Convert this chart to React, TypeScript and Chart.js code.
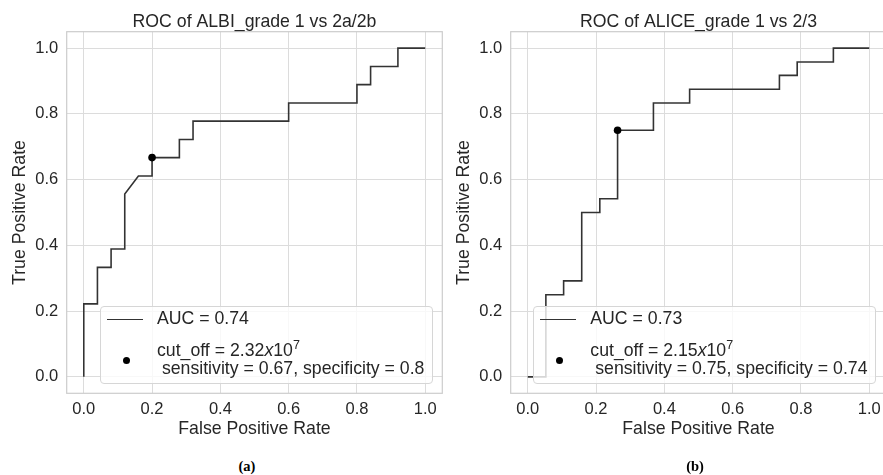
import React, { useEffect, useRef } from "react";
import { Chart, registerables } from "chart.js";

Chart.register(...registerables);

// ---- data ----
const axisTicks = [0, 0.2, 0.4, 0.6, 0.8, 1.0];

const titleA = "ROC of ALBI_grade 1 vs 2a/2b";
const fprA = [0, 0, 0.04, 0.04, 0.08, 0.08, 0.12, 0.12, 0.16, 0.2, 0.2, 0.28, 0.28, 0.32, 0.32, 0.6, 0.6, 0.8, 0.8, 0.84, 0.84, 0.92, 0.92, 1.0];
const tprA = [0, 0.222, 0.222, 0.333, 0.333, 0.389, 0.389, 0.556, 0.611, 0.611, 0.667, 0.667, 0.722, 0.722, 0.778, 0.778, 0.833, 0.833, 0.889, 0.889, 0.944, 0.944, 1.0, 1.0];
const cutA = [0.2, 0.667];
const aucA = "0.74";
const cutValA = "2.32";
const sensA = "0.67";
const specA = "0.8";

const titleB = "ROC of ALICE_grade 1 vs 2/3";
const fprB = [0, 0.053, 0.053, 0.105, 0.105, 0.158, 0.158, 0.211, 0.211, 0.263, 0.263, 0.368, 0.368, 0.474, 0.474, 0.737, 0.737, 0.789, 0.789, 0.895, 0.895, 1.0];
const tprB = [0, 0, 0.25, 0.25, 0.292, 0.292, 0.5, 0.5, 0.542, 0.542, 0.75, 0.75, 0.833, 0.833, 0.875, 0.875, 0.917, 0.917, 0.958, 0.958, 1.0, 1.0];
const cutB = [0.263, 0.75];
const aucB = "0.73";
const cutValB = "2.15";
const sensB = "0.75";
const specB = "0.74";

const FONT = "'Liberation Sans', Arial, Helvetica, sans-serif";
const TEXT = "#262626";
const GRID = "#dcdcdc";
const FRAME = "#cccccc";
const LABEL_SIZE = 17.7;
const TICK_SIZE = 16.5;

function makeFramePlugin(title: string) {
  return {
    id: "frameTitle",
    beforeDatasetsDraw(chart: any) {
      const { ctx, chartArea } = chart;
      ctx.save();
      ctx.strokeStyle = FRAME;
      ctx.lineWidth = 1.2;
      ctx.strokeRect(chartArea.left, chartArea.top, chartArea.right - chartArea.left, chartArea.bottom - chartArea.top);
      ctx.restore();
    },
    afterDraw(chart: any) {
      const { ctx, chartArea } = chart;
      ctx.save();
      ctx.fillStyle = TEXT;
      ctx.font = `${LABEL_SIZE}px ${FONT}`;
      ctx.textAlign = "center";
      ctx.textBaseline = "alphabetic";
      ctx.fillText(title, (chartArea.left + chartArea.right) / 2, 26.5);
      ctx.restore();
    },
  };
}

function RocChart(props: { title: string; fpr: number[]; tpr: number[]; cut: number[]; left: number }) {
  const ref = useRef<HTMLCanvasElement>(null);
  useEffect(() => {
    const { title, fpr, tpr, cut } = props;
    const chart = new Chart(ref.current as HTMLCanvasElement, {
      type: "scatter",
      data: {
        datasets: [
          {
            data: fpr.map((x, i) => ({ x, y: tpr[i] })),
            showLine: true,
            borderColor: "#333333",
            borderWidth: 1.6,
            pointRadius: 0,
            tension: 0,
            fill: false,
            order: 2,
          } as any,
          {
            data: [{ x: cut[0], y: cut[1] }],
            pointRadius: 3.8,
            backgroundColor: "#000000",
            borderWidth: 0,
            order: 1,
          },
        ],
      },
      options: {
        responsive: false,
        animation: false,
        devicePixelRatio: 1,
        layout: { padding: { left: 0, right: 7.7, top: 31.7, bottom: 0 } },
        plugins: { legend: { display: false }, tooltip: { enabled: false }, title: { display: false } },
        scales: {
          x: {
            type: "linear",
            min: -0.05,
            max: 1.05,
            afterBuildTicks: (s: any) => {
              s.ticks = axisTicks.map((v) => ({ value: v }));
            },
            afterFit: (s: any) => {
              s.height = 56.7;
            },
            grid: { color: GRID, lineWidth: 1, drawTicks: false },
            border: { display: false },
            ticks: {
              padding: 6,
              color: TEXT,
              font: { family: FONT, size: TICK_SIZE },
              callback: (v: any) => Number(v).toFixed(1),
            },
            title: {
              display: true,
              text: "False Positive Rate",
              color: TEXT,
              font: { family: FONT, size: LABEL_SIZE },
              padding: { top: 0, bottom: 10.2 },
            },
          },
          y: {
            type: "linear",
            min: -0.05,
            max: 1.05,
            afterBuildTicks: (s: any) => {
              s.ticks = axisTicks.map((v) => ({ value: v }));
            },
            afterFit: (s: any) => {
              s.width = 66.7;
            },
            grid: { color: GRID, lineWidth: 1, drawTicks: false },
            border: { display: false },
            ticks: {
              padding: 8.4,
              color: TEXT,
              font: { family: FONT, size: TICK_SIZE },
              callback: (v: any) => Number(v).toFixed(1),
            },
            title: {
              display: true,
              text: "True Positive Rate",
              color: TEXT,
              font: { family: FONT, size: LABEL_SIZE },
              padding: { top: 9.4, bottom: 0 },
            },
          },
        },
      },
      plugins: [makeFramePlugin(title) as any],
    });
    return () => chart.destroy();
  }, []);
  return (
    <canvas
      ref={ref}
      width={450}
      height={450}
      style={{ position: "absolute", left: props.left, top: 0, width: 450, height: 450 }}
    />
  );
}

function Legend(props: { left: number; width: number; auc: string; cutVal: string; sens: string; spec: string }) {
  const txt: React.CSSProperties = {
    position: "absolute",
    fontFamily: FONT,
    fontSize: LABEL_SIZE,
    lineHeight: "17px",
    color: TEXT,
    whiteSpace: "pre",
  };
  return (
    <div
      style={{
        position: "absolute",
        left: props.left,
        top: 306,
        width: props.width,
        height: 78,
        boxSizing: "border-box",
        border: "1px solid #d6d6d6",
        borderRadius: 4,
        background: "rgba(255,255,255,0.8)",
      }}
    >
      <div style={{ position: "absolute", left: 6, top: 12, width: 36, height: 0, borderTop: "1.6px solid #333333" }} />
      <div style={{ ...txt, left: 56, top: 3.4 }}>{`AUC = ${props.auc}`}</div>
      <div
        style={{
          position: "absolute",
          left: 21.5,
          top: 49.5,
          width: 7,
          height: 7,
          borderRadius: "50%",
          background: "#000",
        }}
      />
      <div style={{ ...txt, left: 56, top: 35.1 }}>
        {`cut_off = ${props.cutVal}`}
        <i>x</i>
        {"10"}
        <span style={{ fontSize: 12.5, position: "relative", top: -7 }}>7</span>
      </div>
      <div style={{ ...txt, left: 56, top: 53.4 }}>{` sensitivity = ${props.sens}, specificity = ${props.spec}`}</div>
    </div>
  );
}

export default function App() {
  const caption: React.CSSProperties = {
    position: "absolute",
    top: 458,
    width: 60,
    textAlign: "center",
    fontFamily: "'Liberation Serif', 'Times New Roman', serif",
    fontWeight: "bold",
    fontSize: 14.5,
    lineHeight: "16px",
    color: "#000",
  };
  return (
    <div
      style={{
        position: "fixed",
        left: 0,
        top: 0,
        width: 883,
        height: 475,
        overflow: "hidden",
        background: "#ffffff",
      }}
    >
      <RocChart title={titleA} fpr={fprA} tpr={tprA} cut={cutA} left={0} />
      <RocChart title={titleB} fpr={fprB} tpr={tprB} cut={cutB} left={443.6} />
      <Legend left={100} width={333} auc={aucA} cutVal={cutValA} sens={sensA} spec={specA} />
      <Legend left={533.3} width={343} auc={aucB} cutVal={cutValB} sens={sensB} spec={specB} />
      <div style={{ ...caption, left: 217 }}>(a)</div>
      <div style={{ ...caption, left: 665 }}>(b)</div>
    </div>
  );
}
